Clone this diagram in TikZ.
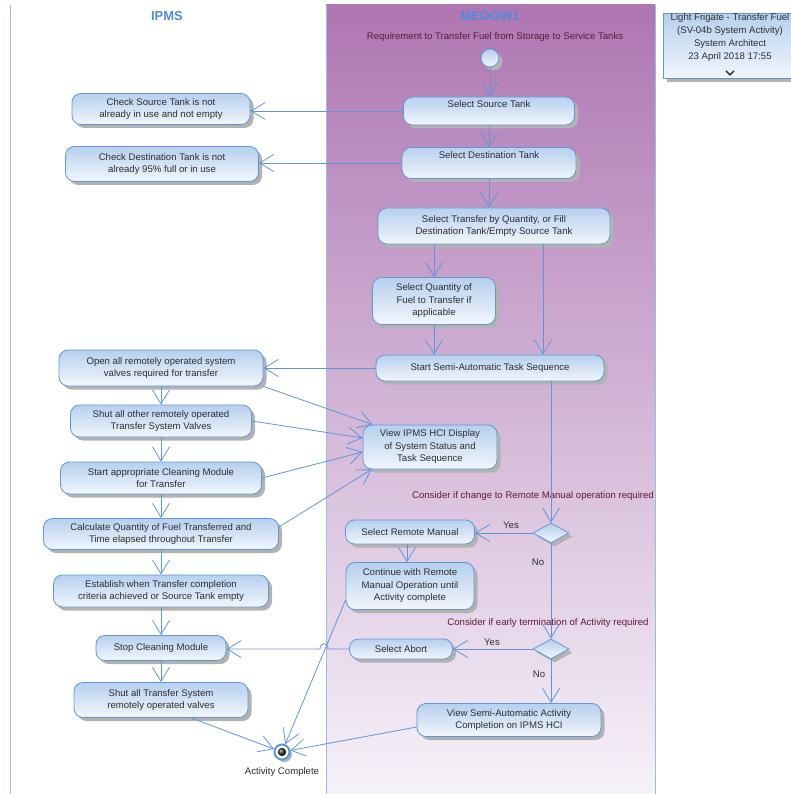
\documentclass[tikz,border=0pt]{standalone}
\usepackage{fontspec}
\setmainfont{Liberation Sans}
\usetikzlibrary{arrows.meta}
\usetikzlibrary{shapes.geometric}
\usetikzlibrary{shadows}

\definecolor{linec}{RGB}{95,150,215}
\definecolor{boxc}{RGB}{100,150,212}
\definecolor{boxtop}{RGB}{182,208,238}
\definecolor{boxbot}{RGB}{242,246,252}
\definecolor{txtc}{RGB}{45,45,50}
\definecolor{headc}{RGB}{80,140,220}
\definecolor{lanec}{RGB}{150,188,235}
\definecolor{notec}{RGB}{95,25,55}
\definecolor{lanetop}{RGB}{174,118,178}
\definecolor{lanemid}{RGB}{186,138,192}
\definecolor{lanebot}{RGB}{246,242,249}

\begin{document}
\begin{tikzpicture}[x=1pt, y=-1pt, font=\fontsize{9.6}{12.5}\selectfont]
    \tikzstyle{action} = [draw=boxc, line width=0.8pt, rounded corners=9pt, top color=boxtop, bottom color=boxbot, text=txtc, align=center, inner sep=1pt, drop shadow={shadow xshift=3.5pt, shadow yshift=-3.5pt, fill=black!30, opacity=1}]
    \tikzstyle{flow} = [draw=linec, line width=0.8pt, -{Straight Barb[length=14pt, width=17pt]}]
    \tikzstyle{choice} = [diamond, draw=boxc, line width=0.8pt, top color=boxtop, bottom color=boxbot, minimum width=36pt, minimum height=20pt, inner sep=0pt, drop shadow={shadow xshift=3.5pt, shadow yshift=-3.5pt, fill=black!30, opacity=1}]
    \tikzstyle{lanehead} = [text=headc, font=\fontsize{13}{15}\selectfont\bfseries]
    \tikzset{wh/.style 2 args={minimum width=#1pt, minimum height=#2pt}}
    \path[use as bounding box, clip] (0,0) rectangle (791,794);

    % swimlanes
    \shade[top color=lanetop, middle color=lanemid, bottom color=lanebot] (326,5) rectangle (655,794);
    \draw[lanec, line width=0.9pt] (10,5) -- (10,794);
    \draw[lanec, line width=0.9pt] (326,5) -- (326,794);
    \draw[lanec, line width=0.9pt] (655,5) -- (655,794);
    \node[lanehead] (ipms) at (167,16) {IPMS};
    \node[lanehead] (meoow) at (490,16) {MEOOW1};
    \node[text=notec] (req) at (495,37) {Requirement to Transfer Fuel from Storage to Service Tanks};

    % note
    \node[draw=boxc, line width=0.8pt, top color=boxtop, bottom color=boxbot, text=txtc, align=center, inner sep=0pt, wh={134}{64}, font=\fontsize{9.6}{13}\selectfont, drop shadow={shadow xshift=3.5pt, shadow yshift=-3.5pt, fill=black!30, opacity=1}] (note) at (730,46) {Light Frigate - Transfer Fuel\\(SV-04b System Activity)\\System Architect\\23 April 2018 17:55\\[6pt]};
    \draw[txtc, line width=1.3pt] ([xshift=-4pt, yshift=8pt]note.south) -- ([yshift=4pt]note.south) -- ([xshift=4pt, yshift=8pt]note.south);

    % MEOOW1 lane
    \node[circle, draw=boxc, line width=0.8pt, top color=boxtop, bottom color=boxbot, minimum size=18pt, inner sep=0pt, drop shadow={shadow xshift=3.5pt, shadow yshift=-3.5pt, fill=black!30, opacity=1}] (init) at (490,58) {};
    \node[action, wh={171}{28}, text depth=14pt] (src) at (489,111) {Select Source Tank};
    \node[action, wh={174}{31}, text depth=15pt] (dst) at (489,163) {Select Destination Tank};
    \node[action, wh={232}{36}] (mode) at (494,226) {Select Transfer by Quantity, or Fill\\Destination Tank/Empty Source Tank};
    \node[action, wh={123}{47}] (qty) at (434,301) {Select Quantity of\\Fuel to Transfer if\\applicable};
    \node[action, wh={228}{26}] (start) at (490,368) {Start Semi-Automatic Task Sequence};
    \node[action, wh={134}{44}] (view) at (430,447) {View IPMS HCI Display\\of System Status and\\Task Sequence};
    \node[choice] (dec1) at (551,533) {};
    \node[action, wh={129}{24}] (remote) at (410,532) {Select Remote Manual};
    \node[action, wh={128}{47}] (cont) at (410,586) {Continue with Remote\\Manual Operation until\\Activity complete};
    \node[choice] (dec2) at (551,649) {};
    \node[action, wh={103}{20}] (abort) at (401,649) {Select Abort};
    \node[action, wh={184}{33}] (viewsemi) at (509,720) {View Semi-Automatic Activity\\Completion on IPMS HCI};
    \node[text=notec] (q1) at (533,496) {Consider if change to Remote Manual operation required};
    \node[text=notec] (q2) at (548,623) {Consider if early termination of Activity required};
    \node[text=txtc] (yes1) at (511,525) {Yes};
    \node[text=txtc] (no1) at (538,562) {No};
    \node[text=txtc] (yes2) at (492,642) {Yes};
    \node[text=txtc] (no2) at (539,674) {No};

    % IPMS lane
    \node[action, wh={178}{31}] (chksrc) at (161,109) {Check Source Tank is not\\already in use and not empty};
    \node[action, wh={193}{35}] (chkdst) at (162,164) {Check Destination Tank is not\\already 95\% full or in use};
    \node[action, wh={204}{36}] (open) at (161,368) {Open all remotely operated system\\valves required for transfer};
    \node[action, wh={181}{32}] (shut) at (161,421) {Shut all other remotely operated\\Transfer System Valves};
    \node[action, wh={201}{32}] (clean) at (161,478) {Start appropriate Cleaning Module\\for Transfer};
    \node[action, wh={235}{31}] (calc) at (161,534) {Calculate Quantity of Fuel Transferred and\\Time elapsed throughout Transfer};
    \node[action, wh={215}{32}] (estab) at (161,591) {Establish when Transfer completion\\criteria achieved or Source Tank empty};
    \node[action, wh={130}{25}] (stopc) at (161,648) {Stop Cleaning Module};
    \node[action, wh={174}{35}] (shutall) at (161,700) {Shut all Transfer System\\remotely operated valves};
    \node[circle, draw=linec, line width=2pt, fill=white, minimum size=15pt, inner sep=0pt, drop shadow={shadow xshift=2.5pt, shadow yshift=-2.5pt, fill=black!30, opacity=1}] (fin) at (282,752) {};
    \fill[ball color=black!80] (fin) circle[radius=4pt];
    \node[text=txtc] (finlbl) at (282,772) {Activity Complete};

    % flows
    \coordinate (m2) at ([xshift=49pt]mode.south);
    \coordinate (s1) at ([xshift=61pt]start.south);
    \draw[flow] (init) -- (init |- src.north);
    \draw[flow] (src.west) -- (src.west -| chksrc.east);
    \draw[flow] (src) -- (dst);
    \draw[flow] (dst.west) -- (dst.west -| chkdst.east);
    \draw[flow] (dst.south) -- (dst.south |- mode.north);
    \draw[flow] (qty.north |- mode.south) -- (qty.north);
    \draw[flow] (m2) -- (m2 |- start.north);
    \draw[flow] (qty.south) -- (qty.south |- start.north);
    \draw[flow] (start.west) -- (start.west -| open.east);
    \draw[flow] (open) -- (shut);
    \draw[flow] (shut) -- (clean);
    \draw[flow] (clean) -- (calc);
    \draw[flow] (calc) -- (estab);
    \draw[flow] (estab) -- (stopc);
    \draw[flow] (stopc) -- (shutall);
    \draw[flow] (open.south east) -- ([xshift=10pt]view.north west);
    \draw[flow] (shut.east) -- ([yshift=9pt]view.west);
    \draw[flow] (clean.east) -- ([yshift=-5pt]view.west);
    \draw[flow] ([yshift=7pt]calc.east) -- ([xshift=9pt]view.south west);
    \draw[flow] (s1) -- (s1 |- dec1.north);
    \draw[flow] (dec1.west) -- (dec1.west -| remote.east);
    \draw[flow] ([xshift=-3pt]remote.south) -- ([xshift=-3pt]cont.north);
    \draw[flow] (dec1.south) -- (dec2.north);
    \draw[flow] (dec2.west) -- (dec2.west -| abort.east);
    \draw[flow] (dec2.south) -- (dec2.south |- viewsemi.north);
    \draw[flow] (abort.west) -- (328,649) .. controls (328,642) and (320,642) .. (320,649) -- (stopc.east |- 0,649);
    \draw[flow] ([yshift=-14pt]cont.west) -- (fin);
    \draw[flow] ([xshift=30pt]shutall.south) -- (fin);
    \draw[flow] ([yshift=-7pt]viewsemi.west) -- (fin);
\end{tikzpicture}
\end{document}
